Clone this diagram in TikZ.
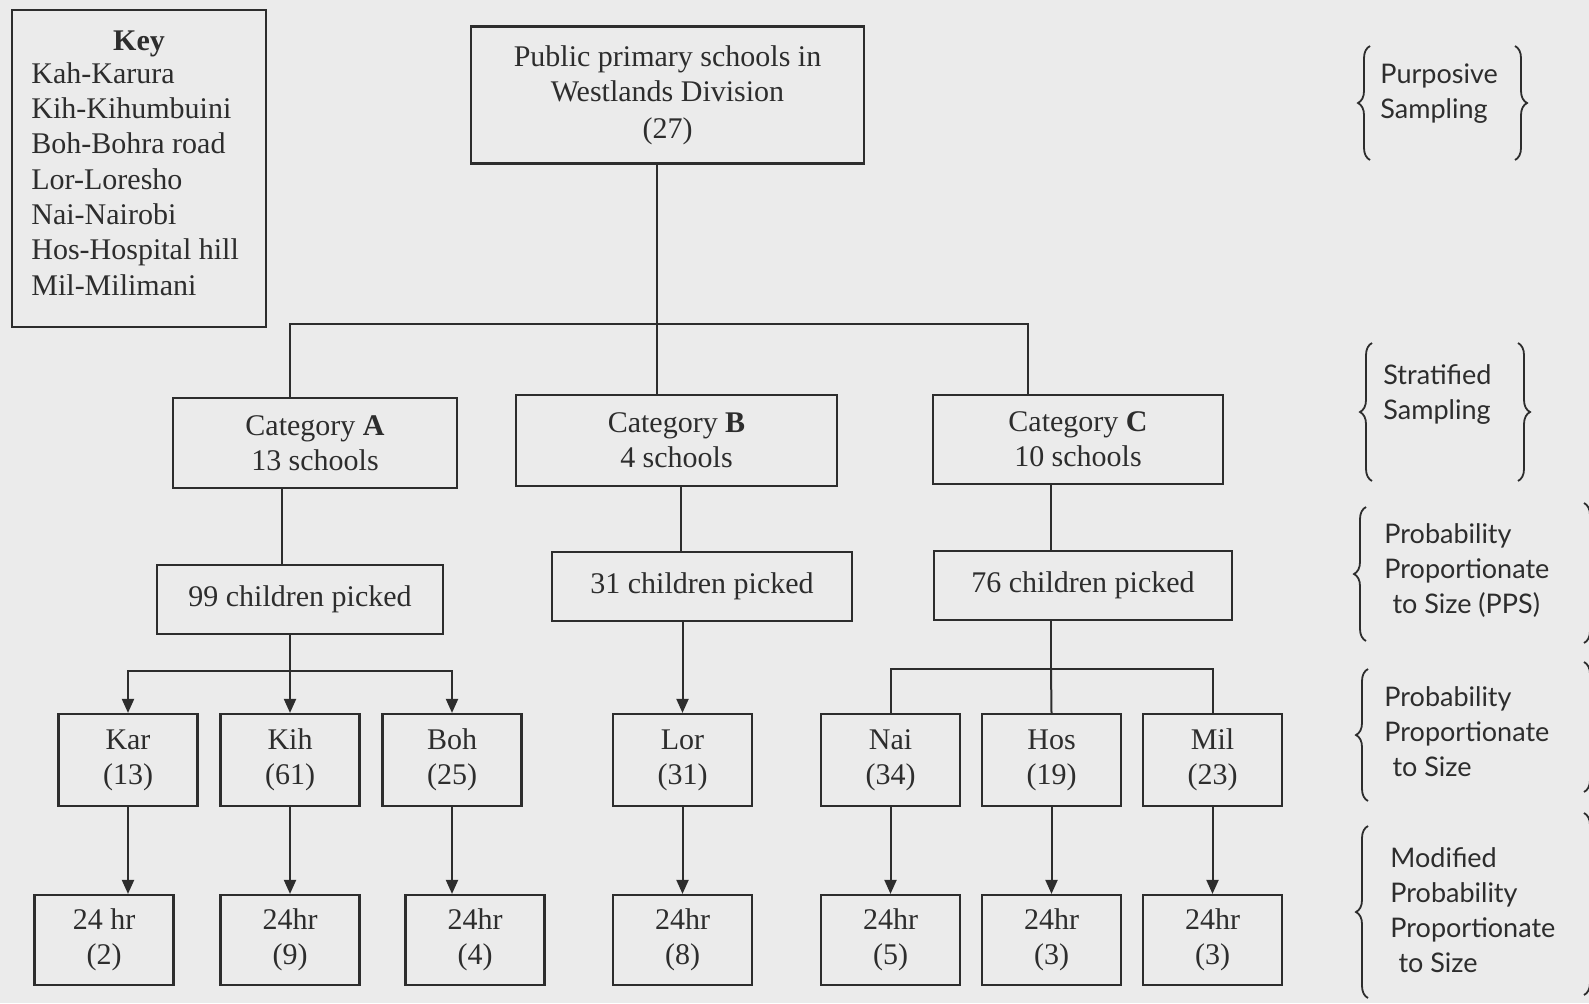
\documentclass[tikz,border=0pt]{standalone}
\usepackage{fontspec}
\setmainfont{Liberation Serif}
\newfontfamily\rsans{Lato}
\usetikzlibrary{arrows.meta,decorations.pathreplacing}
\definecolor{bg}{RGB}{235,235,235}
\definecolor{ink}{RGB}{45,45,45}
\begin{document}
\begin{tikzpicture}[x=0.5pt,y=-0.5pt,
  box/.style={draw=ink, line width=1.1pt, text=ink, align=center, inner sep=0pt,
    font=\fontsize{15}{17.5}\selectfont},
  rowbox/.style={box, minimum width=69.5pt, minimum height=46pt},
  hrbox/.style={box, minimum width=69.5pt, minimum height=45pt},
  conn/.style={draw=ink, line width=1pt},
  arr/.style={conn, -{Triangle[length=7pt,width=6pt]}},
  curly/.style={draw=ink, line width=0.9pt, decorate, decoration={brace, amplitude=6pt}},
  side/.style={text=ink, align=left, anchor=west, inner sep=0pt,
    font=\rsans\fontsize{13.5}{17.5}\selectfont}]
\fill[bg] (0,0) rectangle (1589,1003);
\useasboundingbox (0,0) rectangle (1589,1003);
\clip (0,0) rectangle (1589,1003);

% key
\node[box, minimum width=127pt, minimum height=158.5pt] (key) at (139,168.5) {};
\node[text=ink, inner sep=0pt, font=\bfseries\fontsize{15}{17.5}\selectfont] (keyt) at (139,44) {Key};
\node[text=ink, inner sep=0pt, align=left, anchor=west, font=\fontsize{15}{17.65}\selectfont] (keyl) at (31,179)
  {Kah-Karura\\Kih-Kihumbuini\\Boh-Bohra road\\Lor-Loresho\\Nai-Nairobi\\Hos-Hospital hill\\Mil-Milimani};

% top
\node[box, minimum width=196.5pt, minimum height=68.5pt] (top) at (667.5,95)
  {Public primary schools in\\Westlands Division\\[1pt](27)};

% categories
\node[box, minimum width=142pt, minimum height=45pt] (catA) at (315,443) {Category \textbf{A}\\13 schools};
\node[box, minimum width=160.5pt, minimum height=45.5pt] (catB) at (676.5,440.5) {Category \textbf{B}\\4 schools};
\node[box, minimum width=145pt, minimum height=44.5pt] (catC) at (1078,439.5) {Category \textbf{C}\\10 schools};

% picked
\node[box, minimum width=143pt, minimum height=34.5pt] (pA) at (300,599.5) {99 children picked};
\node[box, minimum width=150pt, minimum height=34.5pt] (pB) at (702,586.5) {31 children picked};
\node[box, minimum width=149pt, minimum height=34.5pt] (pC) at (1083,585.5) {76 children picked};

% row 1
\node[rowbox] (kar) at (128,760) {Kar\\(13)};
\node[rowbox] (kih) at (290,760) {Kih\\(61)};
\node[rowbox] (boh) at (452,760) {Boh\\(25)};
\node[rowbox] (lor) at (682.5,760) {Lor\\(31)};
\node[rowbox] (nai) at (890.5,760) {Nai\\(34)};
\node[rowbox] (hos) at (1051.5,760) {Hos\\(19)};
\node[rowbox] (mil) at (1212.5,760) {Mil\\(23)};

% row 2
\node[hrbox] (kar24) at (104,940) {24 hr\\(2)};
\node[hrbox] (kih24) at (290,940) {24hr\\(9)};
\node[hrbox] (boh24) at (475,940) {24hr\\(4)};
\node[hrbox] (lor24) at (682.5,940) {24hr\\(8)};
\node[hrbox] (nai24) at (890.5,940) {24hr\\(5)};
\node[hrbox] (hos24) at (1051.5,940) {24hr\\(3)};
\node[hrbox] (mil24) at (1212.5,940) {24hr\\(3)};

% junctions
\coordinate (jA) at (290,324);
\coordinate (jB) at (657,324);
\coordinate (jC) at (1028,324);
\coordinate (xA) at (282,0);
\coordinate (xB) at (681,0);
\coordinate (xC) at (1051,0);
\coordinate (hA) at (290,671);
\coordinate (hC) at (1051,669);

\draw[conn] (top.south -| jB) -- (jB);
\draw[conn] (catA.north -| jA) -- (jA) -- (jC) -- (catC.north -| jC);
\draw[conn] (jB) -- (catB.north -| jB);
\draw[conn] (catA.south -| xA) -- (pA.north -| xA);
\draw[conn] (catB.south -| xB) -- (pB.north -| xB);
\draw[conn] (catC.south -| xC) -- (pC.north -| xC);

\draw[conn] (pA.south -| hA) -- (hA);
\draw[arr] (hA) -| (kar.north);
\draw[arr] (hA) -- (kih.north);
\draw[arr] (hA) -| (boh.north);
\draw[arr] (pB.south -| lor) -- (lor.north);
\draw[conn] (pC.south -| hC) -- (hC);
\draw[conn] (hC) -| (nai.north);
\draw[conn] (hC) -- (hos.north);
\draw[conn] (hC) -| (mil.north);

\foreach \n in {kar,kih,boh,lor,nai,hos,mil}
  \draw[arr] (\n.south) -- (\n.south |- \n24.north);

% braces
\draw[curly] (1370,160) -- (1370,46);
\draw[curly] (1515,46) -- (1515,160);
\draw[curly] (1372,481) -- (1372,343);
\draw[curly] (1518,343) -- (1518,481);
\draw[curly] (1366,641) -- (1366,507);
\draw[curly] (1584,503) -- (1584,643);
\draw[curly] (1368,801) -- (1368,669);
\draw[curly] (1584,662) -- (1584,792);
\draw[curly] (1368,998) -- (1368,826);
\draw[curly] (1584,813) -- (1584,995);

\node[side] (t1) at (1380,94) {Purposive\\Sampling};
\node[side] (t2) at (1383,395) {Stratified\\Sampling};
\node[side] (t3) at (1384,571) {Probability\\Proportionate\\\hspace*{0.3em}to Size (PPS)};
\node[side] (t4) at (1384,732) {Probability\\Proportionate\\\hspace*{0.3em}to Size};
\node[side] (t5) at (1390,910) {Modified\\Probability\\Proportionate\\\hspace*{0.3em}to Size};
\end{tikzpicture}
\end{document}
